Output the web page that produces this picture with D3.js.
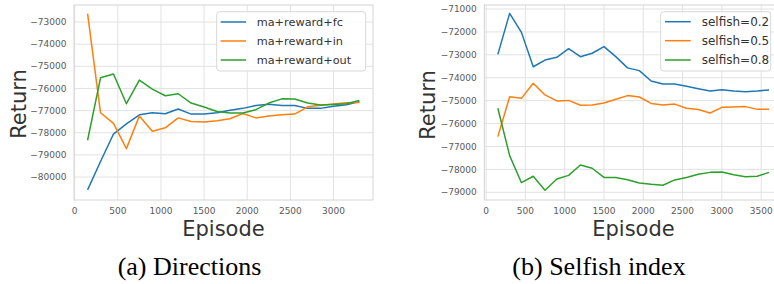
<!DOCTYPE html>
<html>
<head>
<meta charset="utf-8">
<script src="https://cdn.jsdelivr.net/npm/d3@7"></script>
<style>
  html, body { margin: 0; padding: 0; background: #fff; }
  svg { display: block; }
</style>
</head>
<body>
<svg id="chart" width="774" height="284"></svg>
<script>
// ---------- Data: (a) Directions ----------
const episodesA = [150,300,450,600,750,900,1050,1200,1350,1500,1650,1800,1950,2100,2250,2400,2550,2700,2850,3000,3150,3300];
const fcA  = [-80580,-79300,-78060,-77600,-77190,-77100,-77140,-76930,-77160,-77160,-77100,-76990,-76900,-76770,-76710,-76770,-76770,-76900,-76900,-76800,-76740,-76590];
const inA  = [-72620,-77100,-77580,-78720,-77240,-77930,-77780,-77330,-77490,-77520,-77460,-77370,-77130,-77330,-77250,-77190,-77160,-76830,-76760,-76700,-76650,-76630];
const outA = [-78340,-75520,-75350,-76690,-75620,-76030,-76330,-76240,-76660,-76840,-77040,-77110,-77110,-76960,-76660,-76470,-76480,-76660,-76750,-76720,-76690,-76540];
const namesA = ["ma+reward+fc","ma+reward+in","ma+reward+out"];
const xTicksA = [0,500,1000,1500,2000,2500,3000];
const yTicksA = [-80000,-79000,-78000,-77000,-76000,-75000,-74000,-73000];

// ---------- Data: (b) Selfish index ----------
const episodesB = [150,300,450,600,750,900,1050,1200,1350,1500,1650,1800,1950,2100,2250,2400,2550,2700,2850,3000,3150,3300,3450,3600];
const s02 = [-72980,-71190,-72020,-73520,-73230,-73110,-72730,-73080,-72930,-72640,-73080,-73570,-73690,-74140,-74270,-74270,-74370,-74480,-74580,-74520,-74580,-74610,-74580,-74530];
const s05 = [-76570,-74830,-74900,-74240,-74750,-75010,-74990,-75200,-75190,-75100,-74940,-74780,-74840,-75120,-75190,-75150,-75330,-75390,-75540,-75290,-75280,-75260,-75380,-75380];
const s08 = [-75330,-77400,-78580,-78300,-78910,-78420,-78260,-77810,-77950,-78350,-78350,-78450,-78590,-78650,-78690,-78460,-78350,-78210,-78130,-78110,-78230,-78320,-78300,-78130];
const namesB = ["selfish=0.2","selfish=0.5","selfish=0.8"];
const xTicksB = [0,500,1000,1500,2000,2500,3000,3500];
const yTicksB = [-79000,-78000,-77000,-76000,-75000,-74000,-73000,-72000,-71000];

const colors = ["#1f77b4","#ff7f0e","#2ca02c"];
const fmt = v => (v < 0 ? "\u2212" : "") + Math.abs(v);

const svg = d3.select("#chart");

function panel(cfg) {
  const g = svg.append("g");
  const x = d3.scaleLinear().domain(cfg.xDomain).range([cfg.left, cfg.right]);
  const y = d3.scaleLinear().domain(cfg.yDomain).range([cfg.bottom, cfg.top]);

  // grid
  g.selectAll(".gx").data(cfg.xTicks).enter().append("line")
    .attr("x1", d => x(d)).attr("x2", d => x(d))
    .attr("y1", cfg.top).attr("y2", cfg.bottom)
    .attr("stroke", "#e2e2e2").attr("stroke-width", 1);
  g.selectAll(".gy").data(cfg.yTicks).enter().append("line")
    .attr("x1", cfg.left).attr("x2", cfg.right)
    .attr("y1", d => y(d)).attr("y2", d => y(d))
    .attr("stroke", "#e2e2e2").attr("stroke-width", 1);
  // frame
  g.append("rect").attr("x", cfg.left).attr("y", cfg.top)
    .attr("width", cfg.right - cfg.left).attr("height", cfg.bottom - cfg.top)
    .attr("fill", "none").attr("stroke", "#d4d4d4").attr("stroke-width", 1);

  // tick labels
  g.selectAll(".tx").data(cfg.xTicks).enter().append("text")
    .attr("x", d => x(d)).attr("y", cfg.bottom + 14)
    .attr("text-anchor", "middle")
    .attr("font-family", "DejaVu Sans").attr("font-size", 9).attr("fill", "#5a5a5a")
    .text(d => d);
  g.selectAll(".ty").data(cfg.yTicks).enter().append("text")
    .attr("x", cfg.left - 7.5).attr("y", d => y(d)).attr("dy", "0.35em")
    .attr("text-anchor", "end")
    .attr("font-family", "DejaVu Sans").attr("font-size", 9).attr("fill", "#5a5a5a")
    .text(d => fmt(d));

  // axis titles
  g.append("text").attr("x", (cfg.left + cfg.right) / 2).attr("y", 235.5)
    .attr("text-anchor", "middle")
    .attr("font-family", "DejaVu Sans").attr("font-size", 21).attr("fill", "#333")
    .text("Episode");
  g.append("text")
    .attr("transform", `translate(${cfg.yTitleX},${cfg.yTitleY}) rotate(-90)`)
    .attr("text-anchor", "middle")
    .attr("font-family", "DejaVu Sans").attr("font-size", 21).attr("fill", "#333")
    .text("Return");

  // lines
  const line = d3.line().x(d => x(d[0])).y(d => y(d[1]));
  cfg.series.forEach((s, i) => {
    g.append("path")
      .datum(cfg.episodes.map((e, j) => [e, s[j]]))
      .attr("d", line)
      .attr("fill", "none").attr("stroke", colors[i])
      .attr("stroke-width", 1.5).attr("stroke-linejoin", "round");
  });

  // legend
  const L = cfg.legend;
  g.append("rect").attr("x", L.x).attr("y", L.y).attr("width", L.w).attr("height", L.h)
    .attr("rx", 3).attr("fill", "#fff").attr("fill-opacity", 0.85)
    .attr("stroke", "#d8d8d8").attr("stroke-width", 1);
  cfg.names.forEach((n, i) => {
    const yy = L.rows[i];
    g.append("line").attr("x1", L.lx1).attr("x2", L.lx2).attr("y1", yy).attr("y2", yy)
      .attr("stroke", colors[i]).attr("stroke-width", 1.5);
    g.append("text").attr("x", L.tx).attr("y", yy).attr("dy", "0.35em")
      .attr("font-family", "DejaVu Sans").attr("font-size", L.fs).attr("fill", "#333")
      .text(n);
  });

  // caption
  g.append("text").attr("x", cfg.capX).attr("y", 275)
    .attr("text-anchor", "middle")
    .attr("font-family", "Liberation Serif").attr("font-size", 26).attr("fill", "#000")
    .text(cfg.caption);
}

panel({
  left: 74, right: 373, top: 5, bottom: 200,
  xDomain: [-7.5, 3457.5], yDomain: [-81040, -72230],
  xTicks: xTicksA, yTicks: yTicksA,
  episodes: episodesA, series: [fcA, inA, outA], names: namesA,
  yTitleX: 25.5, yTitleY: 104,
  legend: { x: 216.7, y: 11.7, w: 149, h: 59.3, lx1: 220.7, lx2: 246, tx: 256.7, rows: [22, 41, 60], fs: 11.3 },
  capX: 189.5, caption: "(a) Directions"
});

panel({
  left: 484.3, right: 782.6, top: 5, bottom: 200,
  xDomain: [-22.5, 3772.5], yDomain: [-79336, -70825],
  xTicks: xTicksB, yTicks: yTicksB,
  episodes: episodesB, series: [s02, s05, s08], names: namesB,
  yTitleX: 435, yTitleY: 105,
  legend: { x: 660.7, y: 11.7, w: 110, h: 59.3, lx1: 665, lx2: 690.7, tx: 701.7, rows: [21.7, 40.7, 60], fs: 12 },
  capX: 599, caption: "(b) Selfish index"
});
</script>
</body>
</html>
